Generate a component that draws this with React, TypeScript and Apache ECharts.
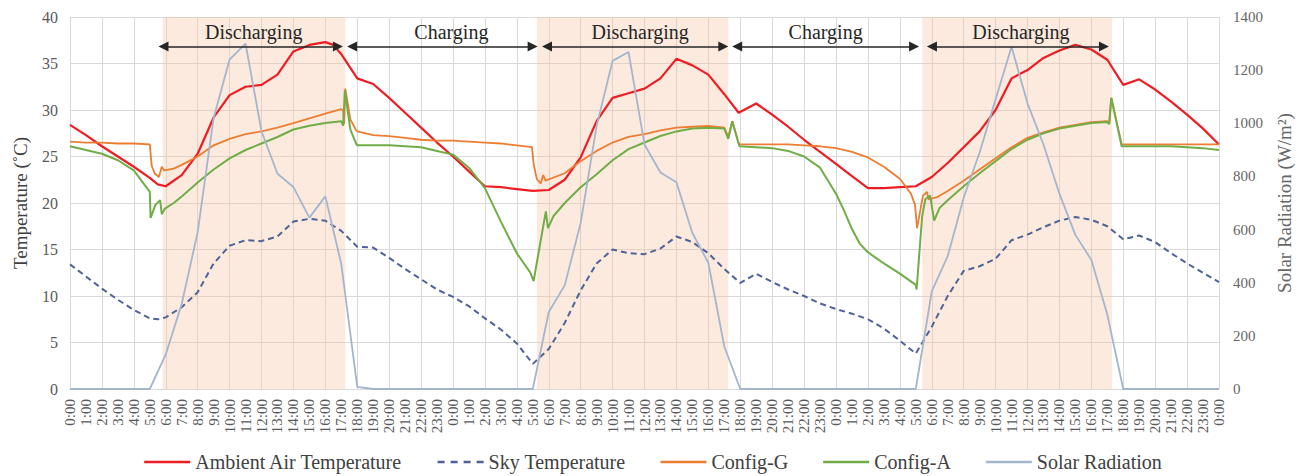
import React, { useEffect, useRef } from "react";
import * as echarts from "echarts";

const hourLabels = [
  "0:00", "1:00", "2:00", "3:00", "4:00", "5:00", "6:00", "7:00", "8:00", "9:00", "10:00", "11:00",
  "12:00", "13:00", "14:00", "15:00", "16:00", "17:00", "18:00", "19:00", "20:00", "21:00", "22:00", "23:00",
  "0:00", "1:00", "2:00", "3:00", "4:00", "5:00", "6:00", "7:00", "8:00", "9:00", "10:00", "11:00",
  "12:00", "13:00", "14:00", "15:00", "16:00", "17:00", "18:00", "19:00", "20:00", "21:00", "22:00", "23:00",
  "0:00", "1:00", "2:00", "3:00", "4:00", "5:00", "6:00", "7:00", "8:00", "9:00", "10:00", "11:00",
  "12:00", "13:00", "14:00", "15:00", "16:00", "17:00", "18:00", "19:00", "20:00", "21:00", "22:00", "23:00",
  "0:00",
];

// [hour, °C]
const ambientAir: [number, number][] = [
  [0, 28.4], [1, 27.3], [2, 26.1], [3, 25.0], [4, 23.9], [5, 22.7], [5.5, 22.0], [6, 21.8], [7, 23.0],
  [8, 25.3], [9, 29.2], [10, 31.6], [11, 32.5], [12, 32.7], [13, 33.8], [14, 36.3], [15, 37.0], [16, 37.3],
  [16.5, 37.0], [17, 36.0], [18, 33.4], [19, 32.8], [20, 31.3], [21, 29.7], [22, 28.1], [23, 26.5],
  [24, 25.0], [25, 23.4], [26, 21.8], [27, 21.7], [28, 21.5], [29, 21.3], [30, 21.4], [31, 22.5],
  [32, 24.9], [33, 28.8], [34, 31.3], [35, 31.8], [36, 32.3], [37, 33.4], [38, 35.5], [39, 34.8],
  [40, 33.8], [41, 31.7], [41.9, 29.7], [43, 30.7], [44, 29.5], [45, 28.2], [46, 26.8], [47, 25.5],
  [48, 24.2], [49, 22.9], [50, 21.6], [51, 21.6], [52, 21.7], [53, 21.8], [54, 22.8], [55, 24.3],
  [56, 26.0], [57, 27.7], [58, 30.0], [59, 33.4], [60, 34.3], [61, 35.6], [62, 36.4], [63, 37.0],
  [64, 36.5], [65, 35.4], [66, 32.7], [67, 33.3], [68, 32.2], [69, 30.9], [70, 29.5], [71, 28.0], [72, 26.3],
];

const skyTemp: [number, number][] = [
  [0, 13.4], [1, 12.1], [2, 10.8], [3, 9.6], [4, 8.5], [5, 7.6], [5.5, 7.5], [6, 7.7], [7, 8.8], [8, 10.4],
  [9, 13.5], [10, 15.4], [11, 16.0], [12, 15.9], [13, 16.4], [14, 18.0], [15, 18.3], [16, 18.1], [17, 17.0],
  [18, 15.3], [19, 15.2], [20, 14.1], [21, 12.9], [22, 11.8], [23, 10.7], [24, 9.9], [25, 8.9], [26, 7.6],
  [27, 6.4], [28, 4.9], [29, 2.7], [30, 4.3], [31, 7.1], [32, 10.6], [33, 13.5], [34, 15.0], [35, 14.6],
  [36, 14.5], [37, 15.1], [38, 16.4], [39, 15.8], [40, 14.6], [41, 12.9], [42, 11.4], [43, 12.4], [44, 11.5],
  [45, 10.7], [46, 10.0], [47, 9.2], [48, 8.6], [49, 8.1], [50, 7.5], [51, 6.5], [52, 5.2], [53, 3.8],
  [54, 6.7], [55, 10.0], [56, 12.7], [57, 13.2], [58, 14.0], [59, 16.0], [60, 16.6], [61, 17.4], [62, 18.1],
  [63, 18.5], [64, 18.2], [65, 17.5], [66, 16.1], [67, 16.5], [68, 15.8], [69, 14.6], [70, 13.5], [71, 12.5],
  [72, 11.5],
];

const configG: [number, number][] = [
  [0, 26.6], [1, 26.5], [2, 26.5], [3, 26.4], [4, 26.4], [5, 26.3], [5.12, 24.0], [5.3, 23.2], [5.57, 22.8],
  [5.75, 23.9], [5.9, 23.5], [6.5, 23.7], [7, 24.1], [8, 25.0], [9, 26.2], [10, 26.9], [11, 27.4], [12, 27.7],
  [13, 28.1], [14, 28.6], [15, 29.1], [16, 29.6], [17, 30.1], [17.12, 29.9], [17.18, 28.5], [17.25, 32.3],
  [17.57, 29.0], [17.9, 27.9], [18, 27.7], [19, 27.3], [20, 27.2], [21, 27.0], [22, 26.8], [23, 26.7],
  [24, 26.7], [25, 26.6], [26, 26.5], [27, 26.4], [28, 26.2], [28.95, 26.0], [29.05, 24.2], [29.25, 22.6],
  [29.5, 22.1], [29.65, 23.0], [29.8, 22.4], [31, 23.2], [32, 24.5], [33, 25.6], [34, 26.5], [35, 27.1],
  [36, 27.4], [37, 27.8], [38, 28.1], [39, 28.2], [40, 28.3], [41, 28.1], [41.25, 27.1], [41.5, 28.8],
  [41.9, 26.4], [42, 26.3], [43, 26.3], [44, 26.3], [45, 26.3], [46, 26.2], [47, 26.1], [48, 25.9],
  [49, 25.5], [50, 24.9], [51, 23.9], [52, 22.6], [52.7, 21.0], [52.95, 19.8], [53.08, 17.3], [53.45, 20.8],
  [53.7, 21.2], [53.8, 20.4], [54.3, 20.6], [55, 21.3], [56, 22.4], [57, 23.6], [58, 24.8], [59, 26.0],
  [60, 27.0], [61, 27.6], [62, 28.1], [63, 28.4], [64, 28.7], [65, 28.8], [65.12, 28.5], [65.25, 31.3],
  [65.9, 26.3], [67, 26.3], [68, 26.3], [69, 26.3], [70, 26.3], [71, 26.3], [72, 26.3],
];

const configA: [number, number][] = [
  [0, 26.1], [1, 25.7], [2, 25.3], [3, 24.6], [4, 23.5], [5, 21.2], [5.05, 18.4], [5.35, 19.8], [5.65, 20.3],
  [5.75, 18.8], [5.95, 19.4], [6.5, 20.0], [7, 20.7], [8, 22.2], [9, 23.6], [10, 24.8], [11, 25.7], [12, 26.4],
  [13, 27.1], [14, 27.9], [15, 28.3], [16, 28.6], [17, 28.8], [17.12, 28.3], [17.22, 32.1], [17.57, 27.9],
  [17.95, 26.3], [18, 26.2], [19, 26.2], [20, 26.2], [21, 26.1], [22, 26.0], [23, 25.6], [24, 25.2],
  [25, 23.8], [26, 21.6], [27, 18.0], [28, 14.6], [28.85, 12.5], [29.05, 11.6], [29.5, 16.0], [29.82, 19.1],
  [29.95, 17.3], [30.3, 18.6], [31, 20.0], [32, 21.7], [33, 23.1], [34, 24.6], [35, 25.8], [36, 26.5],
  [37, 27.2], [38, 27.7], [39, 28.0], [40, 28.1], [41, 28.0], [41.25, 26.9], [41.5, 28.8], [41.95, 26.1],
  [43, 26.0], [44, 25.9], [45, 25.6], [46, 25.0], [47, 23.8], [48, 21.0], [48.5, 19.2], [49, 17.2],
  [49.5, 15.6], [50, 14.7], [50.5, 14.1], [51, 13.5], [52, 12.4], [53, 11.2], [53.05, 10.7], [53.4, 18.6],
  [53.6, 20.4], [53.9, 20.8], [54.15, 18.1], [54.5, 19.5], [55, 20.3], [56, 21.8], [57, 23.2], [58, 24.5],
  [59, 25.8], [60, 26.8], [61, 27.5], [62, 28.0], [63, 28.3], [64, 28.6], [65, 28.7], [65.12, 28.5],
  [65.25, 31.3], [65.9, 26.1], [67, 26.1], [68, 26.1], [69, 26.1], [70, 26.0], [71, 25.9], [72, 25.7],
];

// [hour, W/m²]
const solarRadiation: [number, number][] = [
  [0, 0], [5, 0], [6, 130], [7, 320], [8, 590], [9, 1020], [10, 1240], [11, 1300], [12, 970], [13, 810],
  [14, 760], [15, 645], [16, 725], [17, 470], [18, 8], [19, 0], [29, 0], [30, 290], [31, 390], [32, 625],
  [33, 990], [34, 1235], [35, 1268], [36, 920], [37, 815], [38, 778], [39, 587], [40, 475], [41, 160],
  [42, 0], [53, 0], [54, 367], [55, 500], [56, 720], [57, 890], [58, 1090], [59, 1288], [60, 1075],
  [61, 920], [62, 735], [63, 580], [64, 486], [65, 280], [66, 0], [72, 0],
];

const phaseNames = ["Discharging", "Charging", "Discharging", "Charging", "Discharging"];
const phaseStart = [5.86, 17.68, 29.89, 41.81, 54.01];
const phaseEnd = [16.79, 28.99, 40.94, 52.89, 64.79];
const phaseLabelShift = [3, 9, 5, 0, 3];
const shadeStart = [5.8, 29.25, 53.4];
const shadeEnd = [17.25, 41.25, 65.3];
const arrowLevel = 36.84;

const FONT = "'Liberation Serif', 'Times New Roman', serif";

const legendNames = ["Ambient Air Temperature", "Sky Temperature", "Config-G", "Config-A", "Solar Radiation"];
const SOLID_ICON = "path://M0,0H46V2.4H0Z";
const DASH_ICON = "path://M0,0H7V2.4H0Z M13,0H20V2.4H13Z M26,0H33V2.4H26Z M39,0H46V2.4H39Z";

export default function App() {
  const ref = useRef<HTMLDivElement>(null);

  useEffect(() => {
    if (!ref.current) return;
    const chart = echarts.init(ref.current, undefined, { renderer: "svg" });

    const lineSeries = (name: string, data: [number, number][], color: string, width: number, yIdx = 0, dash?: any) => ({
      name,
      type: "line",
      xAxisIndex: 1,
      yAxisIndex: yIdx,
      data,
      symbol: "none",
      showSymbol: false,
      itemStyle: { color },
      lineStyle: { color, width, type: dash || "solid" },
      z: 3,
    });

    const option: any = {
      animation: false,
      textStyle: { fontFamily: FONT },
      grid: { left: 70, right: 87, top: 17, bottom: 87 },
      legend: {
        data: legendNames.map((n) => ({ name: n, icon: n === "Sky Temperature" ? DASH_ICON : SOLID_ICON })),
        left: "center",
        top: 447,
        itemWidth: 46,
        itemHeight: 2.4,
        itemGap: 35,
        textStyle: { fontFamily: FONT, fontSize: 20, color: "#404040" },
      },
      xAxis: [
        {
          type: "category",
          data: hourLabels,
          boundaryGap: false,
          axisTick: { show: false },
          axisLine: { show: true, lineStyle: { color: "#D9D9D9" } },
          axisLabel: { interval: 0, rotate: 90, fontSize: 15, color: "#595959", margin: 10, fontFamily: FONT },
          splitLine: { show: true, interval: 1, lineStyle: { color: "#D9D9D9", width: 1 } },
        },
        { type: "value", min: 0, max: 72, show: false },
      ],
      yAxis: [
        {
          type: "value",
          min: 0,
          max: 40,
          interval: 5,
          name: "Temperature (˚C)",
          nameLocation: "middle",
          nameRotate: 90,
          nameGap: 40,
          nameTextStyle: { fontFamily: FONT, fontSize: 19, color: "#404040" },
          axisLine: { show: false },
          axisTick: { show: false },
          axisLabel: { fontSize: 16, color: "#595959", margin: 12, fontFamily: FONT },
          splitLine: { show: true, lineStyle: { color: "#D9D9D9", width: 1 } },
        },
        {
          type: "value",
          min: 0,
          max: 1400,
          interval: 200,
          position: "right",
          name: "Solar Radiation (W/m²)",
          nameLocation: "middle",
          nameRotate: 90,
          nameGap: 56,
          nameTextStyle: { fontFamily: FONT, fontSize: 19, color: "#666666" },
          axisLine: { show: false },
          axisTick: { show: false },
          axisLabel: {
            fontSize: 15,
            color: "#666666",
            margin: 14,
            fontFamily: FONT,
            formatter: (v: number) => String(v),
          },
          splitLine: { show: false },
        },
      ],
      series: [
        {
          name: "phases",
          type: "line",
          xAxisIndex: 1,
          yAxisIndex: 0,
          data: [],
          z: 1,
          silent: true,
          markArea: {
            silent: true,
            itemStyle: { color: "rgba(247,196,160,0.35)" },
            data: shadeStart.map((s, i) => [{ xAxis: s }, { xAxis: shadeEnd[i] }]),
          },
          markLine: {
            silent: true,
            symbol: ["triangle", "triangle"],
            symbolSize: [10, 10],
            lineStyle: { color: "#262626", width: 1.5, type: "solid" },
            label: {
              show: true,
              position: "insideMiddleTop",
              distance: 4,
              formatter: "{b}",
              fontFamily: FONT,
              fontSize: 20,
              color: "#262626",
            },
            data: phaseNames.map((n, i) => [
              { name: n, coord: [phaseStart[i], arrowLevel], label: { offset: [phaseLabelShift[i], 0] } },
              { coord: [phaseEnd[i], arrowLevel] },
            ]),
          },
        },
        lineSeries("Ambient Air Temperature", ambientAir, "#EE1D23", 2.2),
        lineSeries("Sky Temperature", skyTemp, "#4F6299", 2, 0, [6, 4]),
        lineSeries("Config-G", configG, "#ED7D31", 1.8),
        lineSeries("Config-A", configA, "#70AD47", 2),
        lineSeries("Solar Radiation", solarRadiation, "#A3B6CE", 1.8, 1),
      ],
    };

    chart.setOption(option);
    return () => chart.dispose();
  }, []);

  return (
    <div
      ref={ref}
      style={{ position: "fixed", left: 0, top: 0, width: 1306, height: 476, background: "#ffffff" }}
    />
  );
}
